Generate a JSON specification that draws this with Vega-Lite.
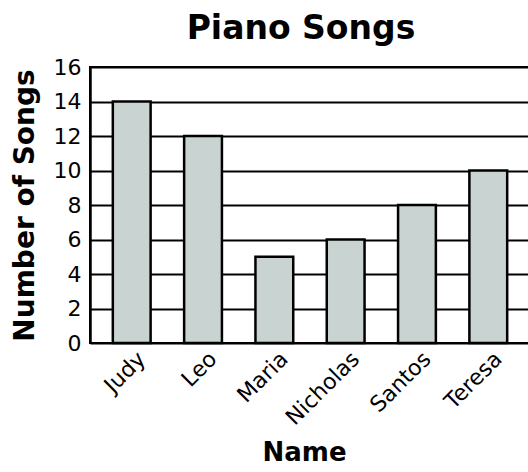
{
  "$schema": "https://vega.github.io/schema/vega-lite/v6.json",
  "autosize": "none",
  "width": 440,
  "height": 276,
  "padding": {"left": 90, "top": 67, "right": 0, "bottom": 129},
  "background": "white",
  "title": {
    "text": "Piano Songs",
    "font": "DejaVu Sans",
    "fontSize": 33,
    "fontWeight": "bold",
    "color": "black",
    "anchor": "middle",
    "offset": 10,
    "dx": -9
  },
  "data": {
    "values": [
      {"Name": "Judy", "Songs": 14},
      {"Name": "Leo", "Songs": 12},
      {"Name": "Maria", "Songs": 5},
      {"Name": "Nicholas", "Songs": 6},
      {"Name": "Santos", "Songs": 8},
      {"Name": "Teresa", "Songs": 10}
    ]
  },
  "mark": {"type": "bar", "fill": "#c9d3d1", "stroke": "black", "strokeWidth": 2.5},
  "encoding": {
    "x": {
      "field": "Name",
      "type": "nominal",
      "sort": null,
      "scale": {"paddingInner": 0.47, "paddingOuter": 0.32},
      "axis": {
        "title": "Name",
        "titleFont": "DejaVu Sans",
        "titleFontSize": 26,
        "titleFontWeight": "bold",
        "titleColor": "black",
        "titlePadding": 11,
        "titleX": 214,
        "labelAngle": -45,
        "labelFont": "DejaVu Sans",
        "labelFontSize": 22,
        "labelColor": "black",
        "labelOffset": 3,
        "labelPadding": 5,
        "ticks": false,
        "domain": false,
        "grid": false
      }
    },
    "y": {
      "field": "Songs",
      "type": "quantitative",
      "scale": {"domain": [0, 16]},
      "axis": {
        "title": "Number of Songs",
        "titleFont": "DejaVu Sans",
        "titleFontSize": 28,
        "titleFontWeight": "bold",
        "titleColor": "black",
        "titlePadding": 14,
        "values": [0, 2, 4, 6, 8, 10, 12, 14, 16],
        "labelFont": "DejaVu Sans",
        "labelFontSize": 22,
        "labelColor": "black",
        "labelPadding": 9,
        "ticks": false,
        "domain": true,
        "domainColor": "black",
        "domainWidth": 2.5,
        "grid": true,
        "gridColor": "black",
        "gridWidth": 2,
        "gridOpacity": 1
      }
    }
  },
  "config": {
    "view": {"stroke": "black", "strokeWidth": 2}
  }
}
